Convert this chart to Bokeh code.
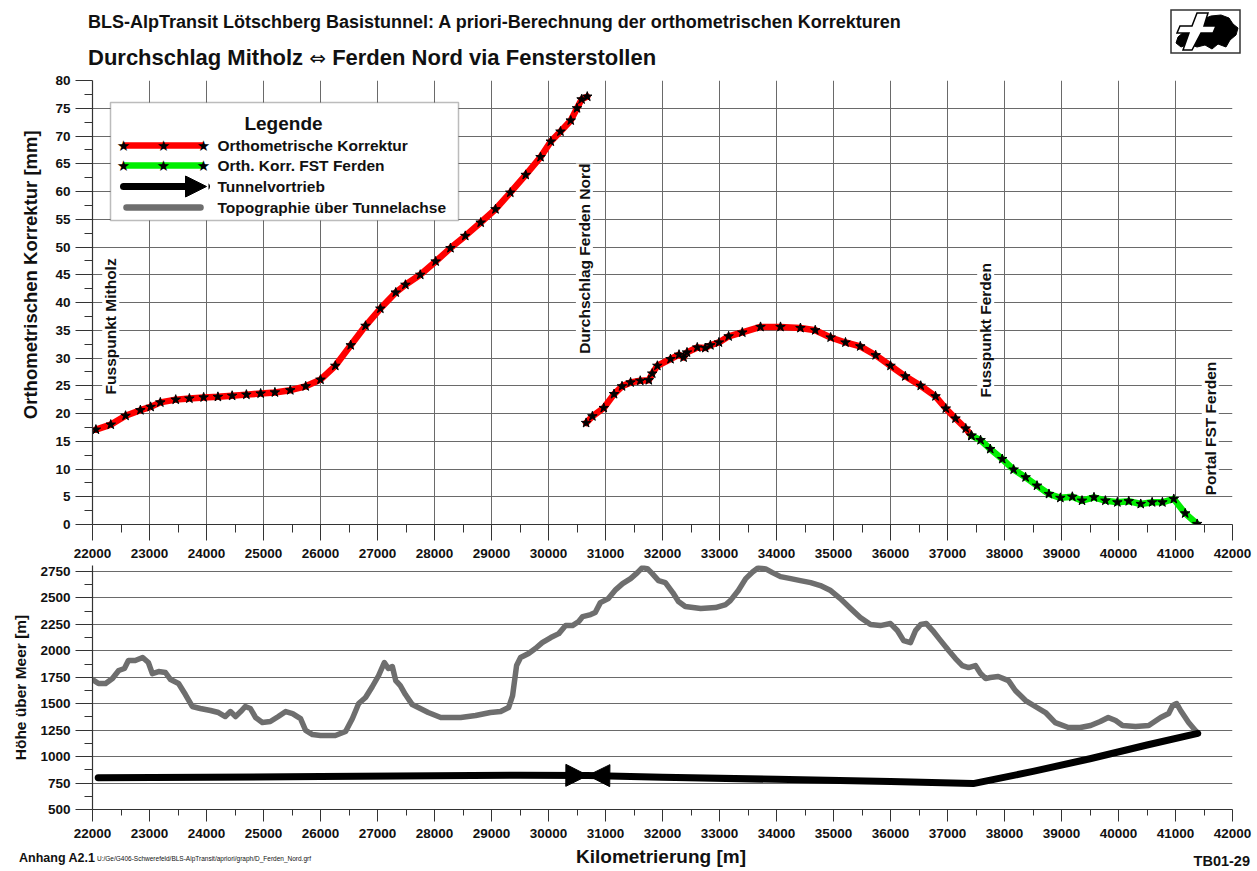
import math
from bokeh.plotting import figure
from bokeh.layouts import column
from bokeh.models import (FixedTicker, Label, Arrow, NormalHead, BoxAnnotation, Range1d, Div)
from bokeh.embed import file_html
from bokeh.resources import INLINE

FONT = "Liberation Sans"

# ---------------- data ----------------
# Orthometrische Korrektur, Abschnitt Mitholz -> Durchschlag (mm)
corr1_km = [22060, 22320, 22580, 22840, 23020, 23190, 23460, 23700, 23950, 24200,
            24450, 24700, 24950, 25200, 25470, 25740, 26000, 26260, 26530, 26790,
            27050, 27320, 27490, 27750, 28020, 28280, 28540, 28810, 29070, 29330,
            29600, 29860, 30040, 30210, 30390, 30500, 30580, 30680]
corr1_mm = [17.1, 18.0, 19.6, 20.6, 21.2, 22.0, 22.5, 22.7, 22.9, 23.0,
            23.2, 23.4, 23.6, 23.8, 24.2, 24.9, 26.1, 28.6, 32.3, 35.8,
            38.9, 41.8, 43.2, 45.0, 47.4, 49.8, 52.0, 54.4, 56.8, 59.8,
            63.0, 66.2, 69.0, 70.8, 72.8, 75.0, 76.6, 77.1]

# Orthometrische Korrektur, Durchschlag -> Fusspunkt Ferden (mm)
corr2_km = [30660, 30770, 30970, 31150, 31290, 31440, 31610, 31760, 31820, 31910,
            32140, 32290, 32370, 32430, 32610, 32750, 32840, 32990, 33160, 33400,
            33720, 34070, 34420, 34680, 34950, 35210, 35470, 35740, 36000, 36260,
            36530, 36790, 36970, 37140, 37320, 37420]
corr2_mm = [18.3, 19.5, 21.0, 23.5, 24.9, 25.6, 25.9, 26.0, 27.2, 28.6,
            29.8, 30.6, 30.1, 31.0, 31.9, 31.8, 32.3, 32.8, 33.9, 34.6,
            35.6, 35.6, 35.4, 35.0, 33.7, 32.8, 32.1, 30.5, 28.6, 26.7,
            25.0, 23.1, 20.9, 19.1, 17.3, 16.0]

# Orth. Korr. FST Ferden (mm)
fst_km = [37420, 37580, 37750, 37960, 38160, 38370, 38570, 38780, 38980, 39190,
          39360, 39570, 39770, 39980, 40180, 40390, 40590, 40770, 40970, 41170, 41380]
fst_mm = [16.0, 15.2, 13.6, 11.8, 9.9, 8.5, 7.0, 5.5, 4.8, 5.0,
          4.3, 4.9, 4.3, 4.0, 4.2, 3.7, 4.0, 4.0, 4.6, 2.0, 0.1]

# Topographie über Tunnelachse (m ü. M.)
topo_km = [22000, 22105, 22230, 22350, 22460, 22560, 22630, 22750, 22880, 22980,
           23050, 23160, 23280, 23370, 23510, 23630, 23750, 23890, 24070, 24210,
           24330, 24420, 24510, 24600, 24680, 24770, 24860, 24980, 25120, 25260,
           25390, 25510, 25650, 25740, 25860, 26000, 26260, 26440, 26560, 26670,
           26790, 26910, 27020, 27120, 27190, 27260, 27320, 27400, 27490, 27610,
           27750, 27890, 28110, 28460, 28720, 28980, 29160, 29300, 29370, 29440,
           29510, 29650, 29770, 29890, 30040, 30180, 30300, 30420, 30530, 30600,
           30740, 30820, 30910, 31050, 31180, 31300, 31440, 31560, 31650, 31740,
           31820, 31930, 32050, 32180, 32280, 32400, 32670, 32930, 33110, 33190,
           33330, 33460, 33580, 33680, 33810, 33930, 34070, 34250, 34420, 34600,
           34770, 34950, 35120, 35300, 35470, 35650, 35820, 36000, 36120, 36230,
           36350, 36440, 36530, 36630, 36740, 36880, 37020, 37140, 37260, 37370,
           37490, 37580, 37670, 37750, 37890, 38070, 38190, 38370, 38540, 38720,
           38890, 39120, 39330, 39510, 39680, 39820, 39950, 40070, 40300, 40530,
           40740, 40880, 40950, 41020, 41090, 41230, 41390]
topo_h = [1729, 1691, 1691, 1738, 1814, 1833, 1908, 1908, 1937, 1890,
          1785, 1804, 1795, 1729, 1691, 1587, 1474, 1455, 1436, 1417,
          1379, 1426, 1379, 1426, 1474, 1455, 1370, 1322, 1332, 1379,
          1426, 1407, 1360, 1247, 1209, 1200, 1200, 1237, 1360, 1502,
          1559, 1663, 1767, 1890, 1833, 1852, 1719, 1672, 1587, 1492,
          1455, 1417, 1370, 1370, 1389, 1417, 1426, 1464, 1577, 1861,
          1937, 1975, 2022, 2078, 2126, 2163, 2239, 2239, 2277, 2324,
          2343, 2362, 2456, 2494, 2579, 2636, 2683, 2740, 2790, 2775,
          2730, 2664, 2645, 2551, 2466, 2419, 2400, 2409, 2438, 2475,
          2570, 2683, 2745, 2785, 2775, 2740, 2702, 2683, 2664, 2645,
          2617, 2570, 2494, 2400, 2315, 2249, 2239, 2258, 2192, 2097,
          2078, 2192, 2249, 2258, 2192, 2097, 2003, 1927, 1861, 1842,
          1861, 1785, 1738, 1748, 1757, 1719, 1625, 1530, 1474, 1417,
          1322, 1275, 1275, 1294, 1332, 1370, 1341, 1294, 1285, 1294,
          1370, 1407, 1483, 1502, 1436, 1322, 1220]

# Tunnelvortrieb (Tunnelachse, m ü. M.)
tunnel_km = [22100, 24000, 26000, 28000, 29500, 30690, 32000, 34000, 36000, 37450,
             38500, 39500, 40500, 41390]
tunnel_h = [800, 805, 812, 820, 825, 822, 805, 785, 765, 745,
            860, 980, 1110, 1220]
durchschlag_km = 30690
durchschlag_h = 822

# vertical point labels
point_names = ["Fusspunkt Mitholz", "Durchschlag Ferden Nord", "Fusspunkt Ferden", "Portal FST Ferden"]
point_km = [22320, 30630, 37670, 41610]
point_label_y = [35.7, 47.9, 35.0, 17.3]

x_ticks = list(range(22000, 42001, 1000))
x_minor = list(range(22500, 42000, 1000))
y1_ticks = list(range(0, 81, 5))
y1_minor = [v + 2.5 for v in range(0, 80, 5)]
y2_ticks = list(range(500, 2751, 250))
y2_minor = [v + 125 for v in range(500, 2750, 250)]

title1 = "BLS-AlpTransit Lötschberg Basistunnel: A priori-Berechnung der orthometrischen Korrekturen"
title2_a = "Durchschlag Mitholz"
title2_sym = "\u21d4"
title2_b = "Ferden Nord via Fensterstollen"
footer_left = "Anhang A2.1"
footer_path = "U:/Ge/G406-Schwerefeld/BLS-AlpTransit/apriori/graph/D_Ferden_Nord.grf"
footer_xlabel = "Kilometrierung [m]"
footer_right = "TB01-29"

# decorative logo outline (page pixels)
logo_box = (1171, 10, 69, 43)
logo_blob_x = [1178, 1186, 1196, 1201, 1211, 1221, 1229, 1233, 1238, 1236, 1230, 1226, 1218, 1212, 1205, 1197, 1189, 1181, 1176]
logo_blob_y = [37, 30, 28, 20, 16, 15, 18, 24, 28, 35, 40, 47, 44, 49, 45, 47, 44, 47, 43]
logo_t_x = [1197, 1208, 1204, 1216, 1213, 1201, 1192, 1183, 1189, 1177, 1180, 1192]
logo_t_y = [13, 13, 26, 26, 33, 33, 50, 50, 33, 33, 26, 26]

# ---------------- styling ----------------
GRID = "#6a6a6a"
AXC = "#333333"
RED = "#ff0000"
GREEN = "#00ee00"
TOPO = "#6e6e6e"

W = 1257
FL = 92          # frame left (px)
FR = 25          # right border (px)


def style_axes(p, xt, xm, yt, ym, x_tick_out, y_tick_out, x_standoff):
    p.xaxis.ticker = FixedTicker(ticks=xt, minor_ticks=xm)
    p.yaxis.ticker = FixedTicker(ticks=yt, minor_ticks=ym)
    for ax in p.xaxis + p.yaxis:
        ax.axis_line_color = AXC
        ax.axis_line_width = 1.2
        ax.major_tick_line_color = AXC
        ax.minor_tick_line_color = AXC
        ax.major_tick_in = 0
        ax.minor_tick_in = 0
        ax.major_label_text_font = FONT
        ax.major_label_text_font_style = "bold"
        ax.major_label_text_font_size = "13.5px"
        ax.major_label_text_color = "#111111"
        ax.axis_label_text_font = FONT
        ax.axis_label_text_font_style = "bold"
        ax.axis_label_text_color = "#111111"
    for ax in p.xaxis:
        ax.major_tick_out = x_tick_out
        ax.minor_tick_out = int(x_tick_out * 0.55)
        ax.major_label_standoff = x_standoff
    for ax in p.yaxis:
        ax.major_tick_out = y_tick_out
        ax.minor_tick_out = 8
        ax.major_label_standoff = 5


def span(text, left, cy, size, bold=True, align="left", right=None):
    top = cy - size / 2.0
    weight = "bold" if bold else "normal"
    pos = f"left:{left}px;" if right is None else f"right:{right}px;"
    tr = "transform:translateX(-50%);" if align == "center" else ""
    return (f'<span style="position:absolute;{pos}top:{top}px;{tr}font-size:{size}px;'
            f'line-height:{size}px;font-weight:{weight};white-space:nowrap;">{text}</span>')


def pts(xs, ys, dy=0):
    return " ".join(f"{x},{y - dy}" for x, y in zip(xs, ys))


# ---------------- header (HTML) ----------------
logo_svg = (f'<svg width="{W}" height="70" style="position:absolute;left:0;top:0;">'
            f'<rect x="{logo_box[0]}" y="{logo_box[1]}" width="{logo_box[2]}" height="{logo_box[3]}" '
            f'fill="white" stroke="#333" stroke-width="1.5"/>'
            f'<polygon points="{pts(logo_blob_x, logo_blob_y)}" fill="black" stroke="black"/>'
            f'<polygon points="{pts(logo_t_x, logo_t_y)}" fill="white" stroke="black" stroke-width="1.5"/>'
            f'</svg>')
title2_html = (f'{title2_a} <span style="font-family:\'DejaVu Sans\';font-weight:normal;'
               f'font-size:20px;">{title2_sym}</span> {title2_b}')
head_html = (f'<div style="position:relative;width:{W}px;height:70px;overflow:visible;'
             f'font-family:\'{FONT}\';color:#111;">' + logo_svg +
             span(title1, 88, 22, 18) + span(title2_html, 88, 58, 22) + '</div>')
head = Div(text=head_html, width=W, height=70, margin=(0, 0, 0, 0))

# ---------------- top figure ----------------
top = figure(width=W, height=495, output_backend="svg", toolbar_location=None,
             x_range=Range1d(22000, 42000), y_range=Range1d(0, 80),
             min_border_left=FL, min_border_right=FR, min_border_top=10, min_border_bottom=41,
             background_fill_color="white", border_fill_color="white")
top.outline_line_color = None
style_axes(top, x_ticks, x_minor, y1_ticks, y1_minor, 16, 17, 8)
top.yaxis.axis_label = "\u2003\u2003\u2003Orthometrischen Korrektur [mm]"
top.yaxis.axis_label_text_font_size = "18.5px"
top.yaxis.axis_label_standoff = 11
top.xgrid.ticker = FixedTicker(ticks=x_ticks)
top.ygrid.ticker = FixedTicker(ticks=y1_ticks)
for g in (top.xgrid, top.ygrid):
    g.grid_line_color = GRID
    g.grid_line_width = 1

top.line(corr1_km, corr1_mm, line_color=RED, line_width=6.5, line_join="round", line_cap="round")
top.line(corr2_km, corr2_mm, line_color=RED, line_width=6.5, line_join="round", line_cap="round")
top.line(fst_km, fst_mm, line_color=GREEN, line_width=6.5, line_join="round", line_cap="round")
top.scatter(corr1_km, corr1_mm, marker="star", size=10, fill_color="black", line_color="black")
top.scatter(corr2_km, corr2_mm, marker="star", size=10, fill_color="black", line_color="black")
top.scatter(fst_km, fst_mm, marker="star", size=10, fill_color="black", line_color="black")

for name, km, yv in zip(point_names, point_km, point_label_y):
    top.add_layout(Label(x=km, y=yv, text=name, angle=math.pi / 2,
                         text_align="center", text_baseline="middle",
                         text_font=FONT, text_font_style="bold", text_font_size="15.5px",
                         text_color="#111111", background_fill_color="white"))


def tx(px):
    return px - FL


def ty(py):
    return 524 - py


def slabel(p, px, py, text, size, bold=True, align="left", font=FONT, color="#111111"):
    p.add_layout(Label(x=tx(px), y=ty(py), x_units="screen", y_units="screen", text=text,
                       text_align=align, text_baseline="middle", text_font=font,
                       text_font_style="bold" if bold else "normal",
                       text_font_size=size, text_color=color))


# legend (manual, inside the frame)
top.add_layout(BoxAnnotation(left=tx(110), right=tx(458), top=ty(102), bottom=ty(220),
                             left_units="screen", right_units="screen", top_units="screen",
                             bottom_units="screen", fill_color="white", fill_alpha=1,
                             line_color="#222222", line_width=1.5))
slabel(top, 283, 123, "Legende", "19px", align="center")
leg_rows = [("Orthometrische Korrektur", 145), ("Orth. Korr. FST Ferden", 165),
            ("Tunnelvortrieb", 186), ("Topographie über Tunnelachse", 207)]
for text, py in leg_rows:
    slabel(top, 217, py, text, "15.5px")
top.add_layout(Arrow(end=None, x_start=tx(123), y_start=ty(145), x_end=tx(203), y_end=ty(145),
                     start_units="screen", end_units="screen", line_color=RED, line_width=6.5))
top.add_layout(Arrow(end=None, x_start=tx(123), y_start=ty(165), x_end=tx(203), y_end=ty(165),
                     start_units="screen", end_units="screen", line_color=GREEN, line_width=6.5))
top.add_layout(Arrow(end=NormalHead(size=21, fill_color="black", line_color="black"),
                     x_start=tx(123), y_start=ty(186), x_end=tx(206), y_end=ty(186),
                     start_units="screen", end_units="screen", line_color="black", line_width=7,
                     line_cap="round"))
top.add_layout(Arrow(end=None, x_start=tx(126), y_start=ty(207), x_end=tx(200), y_end=ty(207),
                     start_units="screen", end_units="screen", line_color=TOPO, line_width=6.5,
                     line_cap="round"))
for py in (145, 165):
    for px in (123, 163, 203):
        slabel(top, px, py, "\u2605", "15px", bold=False, align="center",
               font="DejaVu Sans", color="black")

# ---------------- bottom figure ----------------
bot = figure(width=W, height=280, output_backend="svg", toolbar_location=None,
             x_range=Range1d(22000, 42000), y_range=Range1d(500, 2807),
             min_border_left=FL, min_border_right=FR, min_border_top=0, min_border_bottom=36,
             background_fill_color="white", border_fill_color="white")
bot.outline_line_color = None
style_axes(bot, x_ticks, x_minor, y2_ticks, y2_minor, 12, 17, 7)
bot.yaxis.axis_label = "Höhe über Meer [m]"
bot.yaxis.axis_label_text_font_size = "15.5px"
bot.yaxis.axis_label_standoff = 8
bot.xgrid.grid_line_color = None
bot.ygrid.ticker = FixedTicker(ticks=y2_ticks)
bot.ygrid.grid_line_color = GRID
bot.ygrid.grid_line_width = 1

bot.line(topo_km, topo_h, line_color=TOPO, line_width=5.5, line_join="round", line_cap="round")
bot.line(tunnel_km, tunnel_h, line_color="black", line_width=7, line_join="round", line_cap="round")
bot.add_layout(Arrow(end=NormalHead(size=22, fill_color="black", line_color="black"),
                     x_start=durchschlag_km - 400, y_start=durchschlag_h + 1,
                     x_end=durchschlag_km, y_end=durchschlag_h, line_alpha=0))
bot.add_layout(Arrow(end=NormalHead(size=22, fill_color="black", line_color="black"),
                     x_start=durchschlag_km + 400, y_start=durchschlag_h - 2,
                     x_end=durchschlag_km, y_end=durchschlag_h, line_alpha=0))

# ---------------- footer (HTML) ----------------
FOOT_TOP = 845
foot_html = (f'<div style="position:relative;width:{W}px;height:25px;overflow:visible;'
             f'font-family:\'{FONT}\';color:#111;">' +
             span(footer_left, 19, 858 - FOOT_TOP, 12.5) +
             span(footer_path, 97, 859 - FOOT_TOP, 6.5, bold=False) +
             span(footer_xlabel, 661, 856 - FOOT_TOP, 19, align="center") +
             span(footer_right, 0, 861 - FOOT_TOP, 14.5, right=W - 1250) + '</div>')
foot = Div(text=foot_html, width=W, height=25, margin=(0, 0, 0, 0))

layout = column(head, top, bot, foot, spacing=0)
open("out.html", "w").write(file_html(layout, INLINE))
